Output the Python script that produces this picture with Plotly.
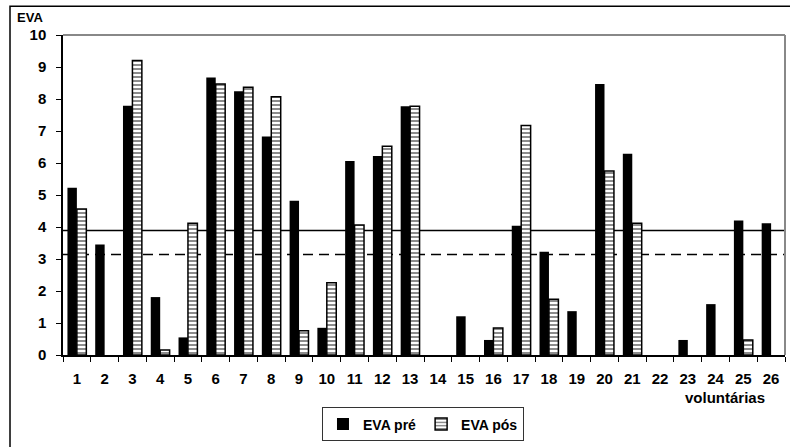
import plotly.graph_objects as go

voluntarias = [str(i) for i in range(1, 27)]
eva_pre = [5.23, 3.45, 7.79, 1.81, 0.55, 8.67, 8.24, 6.83, 4.82, 0.85, 6.06, 6.22, 7.77,
           None, 1.21, 0.47, 4.04, 3.23, 1.37, 8.47, 6.29, None, 0.47, 1.59, 4.20, 4.12]
eva_pos = [4.56, None, 9.20, 0.16, 4.12, 8.47, 8.37, 8.07, 0.76, 2.26, 4.06, 6.52, 7.77,
           None, None, 0.84, 7.17, 1.74, None, 5.75, 4.12, None, None, None, 0.47, None]
media_pre = 3.89
media_pos = 3.14
y_ticks = list(range(0, 11))

FONT = "Arial"

def bold(s):
    return "<b>" + s + "</b>"

fig = go.Figure()
fig.add_trace(go.Bar(
    x=voluntarias, y=eva_pre, name=bold("EVA pré"),
    marker=dict(color="black", line=dict(color="black", width=0)),
))
fig.add_trace(go.Bar(
    x=voluntarias, y=eva_pos, name=bold("EVA pós"),
    marker=dict(color="white", line=dict(color="black", width=1.5),
                pattern=dict(shape="-", fgcolor="black", bgcolor="white", size=4, solidity=0.45)),
))

for val, dash in [(media_pre, "solid"), (media_pos, "10px,6px")]:
    fig.add_shape(type="line", xref="paper", yref="y", x0=0, x1=1, y0=val, y1=val,
                  line=dict(color="black", width=1.5, dash=dash), layer="below")

# outer frame
fig.add_shape(type="rect", xref="paper", yref="paper", x0=-0.0734, x1=1.2, y0=-0.5, y1=1.09,
              line=dict(color="black", width=1.5), layer="below")
# plot area border (gray, top & right)
fig.add_shape(type="line", xref="paper", yref="paper", x0=0, x1=1, y0=1, y1=1,
              line=dict(color="#888888", width=2), layer="below")
fig.add_shape(type="line", xref="paper", yref="paper", x0=1, x1=1, y0=0, y1=1,
              line=dict(color="#888888", width=2), layer="below")

fig.add_annotation(text=bold("EVA"), xref="paper", yref="paper", x=-0.066, y=1.055,
                   xanchor="left", yanchor="middle", showarrow=False,
                   font=dict(family=FONT, size=13, color="black"))
fig.add_annotation(text=bold("voluntárias"), xref="paper", yref="paper", x=0.917, y=-0.134,
                   xanchor="center", yanchor="middle", showarrow=False,
                   font=dict(family=FONT, size=15, color="black"))

fig.update_layout(
    width=790, height=447,
    margin=dict(l=63, r=5, t=35, b=90),
    paper_bgcolor="white", plot_bgcolor="white",
    barmode="group", bargap=0.32, bargroupgap=0,
    showlegend=True,
    legend=dict(orientation="h", x=0.4986, y=-0.217, xanchor="center", yanchor="middle",
                bordercolor="#333333", borderwidth=1, bgcolor="white",
                font=dict(family=FONT, size=14, color="black"),
                itemwidth=30, traceorder="normal"),
    xaxis=dict(type="category", tickson="boundaries", ticks="outside", ticklen=5,
               tickcolor="black", showline=True, linecolor="black", linewidth=1.5,
               showgrid=False, tickfont=dict(family=FONT, size=15, color="black"),
               tickvals=voluntarias, ticktext=[bold(v) for v in voluntarias],
               ticklabelstandoff=9, range=[-0.5, 25.5]),
    yaxis=dict(range=[0, 10], tickvals=y_ticks, ticktext=[bold(str(v)) for v in y_ticks],
               ticks="outside", ticklen=5, tickcolor="black",
               showline=True, linecolor="black", linewidth=1.5, showgrid=False, zeroline=False,
               ticklabelstandoff=7,
               tickfont=dict(family=FONT, size=15, color="black")),
)

fig.write_html("out.html", config={"displayModeBar": False},
               post_script="document.body.style.margin='0px';")
